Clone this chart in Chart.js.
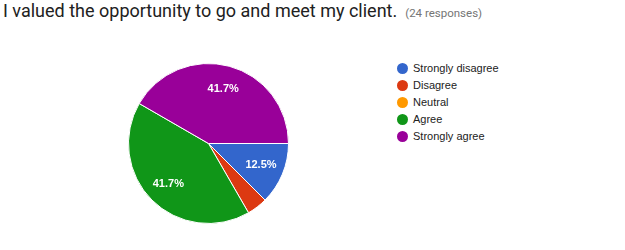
<!DOCTYPE html>
<html>
<head>
<meta charset="utf-8">
<script src="https://cdn.jsdelivr.net/npm/chart.js@4"></script>
<style>
  html, body { margin: 0; padding: 0; background: #fff; }
  body { width: 625px; height: 250px; position: relative; overflow: hidden; }
  #title { position: absolute; left: 3px; top: 0px; font-family: Roboto, sans-serif; font-size: 18px; color: #212121; white-space: nowrap; }
  #title span { font-size: 11.5px; color: #757575; margin-left: 8px; }
  #wrap { position: absolute; left: 123px; top: 58px; width: 171px; height: 171px; }
  #legend { position: absolute; left: 397px; top: 60px; font-family: "Liberation Sans", Arial, sans-serif; font-size: 11px; color: #222; }
  .row { height: 17px; line-height: 17px; position: relative; padding-left: 16px; white-space: nowrap; }
  .dot { position: absolute; left: 0; top: 3px; width: 11px; height: 11px; border-radius: 50%; }
</style>
</head>
<body>
<div id="title">I valued the opportunity to go and meet my client.<span>(24 responses)</span></div>
<div id="wrap"><canvas id="c"></canvas></div>
<div id="legend"></div>
<script>
const categories = ["Strongly disagree", "Disagree", "Neutral", "Agree", "Strongly agree"];
const counts = [3, 1, 0, 10, 10];
const colors = ["#3366cc", "#dc3912", "#ff9900", "#109618", "#990099"];

const legend = document.getElementById('legend');
categories.forEach((c, i) => {
  const r = document.createElement('div');
  r.className = 'row';
  const d = document.createElement('span');
  d.className = 'dot';
  d.style.background = colors[i];
  r.appendChild(d);
  r.appendChild(document.createTextNode(c));
  legend.appendChild(r);
});

const total = counts.reduce((a, b) => a + b, 0);

const labelPlugin = {
  id: 'sliceLabels',
  afterDatasetsDraw(chart) {
    const ctx = chart.ctx;
    const meta = chart.getDatasetMeta(0);
    ctx.save();
    ctx.fillStyle = '#ffffff';
    ctx.font = 'bold 11px "Liberation Sans", Arial, sans-serif';
    ctx.textAlign = 'center';
    ctx.textBaseline = 'middle';
    meta.data.forEach((arc, i) => {
      const v = counts[i];
      const pct = v / total * 100;
      if (pct < 5) return;
      const p = arc.getProps(['startAngle', 'endAngle', 'outerRadius', 'x', 'y'], true);
      const mid = (p.startAngle + p.endAngle) / 2;
      const rr = p.outerRadius * 0.71;
      ctx.fillText(pct.toFixed(1) + '%', p.x + Math.cos(mid) * rr, p.y + Math.sin(mid) * rr);
    });
    ctx.restore();
  }
};

new Chart(document.getElementById('c'), {
  type: 'pie',
  data: {
    labels: categories,
    datasets: [{
      data: counts,
      backgroundColor: colors,
      borderColor: '#ffffff',
      borderWidth: 1
    }]
  },
  options: {
    responsive: true,
    maintainAspectRatio: false,
    animation: false,
    rotation: 90,
    layout: { padding: 5 },
    plugins: {
      legend: { display: false },
      tooltip: { enabled: false }
    }
  },
  plugins: [labelPlugin]
});
</script>
</body>
</html>
